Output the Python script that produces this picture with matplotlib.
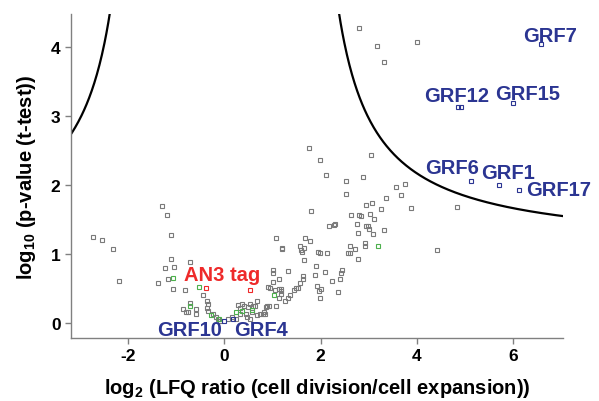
import matplotlib
matplotlib.use('Agg')
import matplotlib.pyplot as plt
import numpy as np

plt.rcParams['font.family'] = ['Liberation Sans', 'DejaVu Sans']
plt.rcParams['mathtext.default'] = 'regular'

# gray (unlabelled) proteins: log2 ratio, -log10 p
gray_x = [-2.73, -2.54, -2.32, -2.19, -1.29, -1.19, -1.12, -1.11, -1.24, -1.04, -0.71,
          -1.17, -1.38, -1.06, -0.82, -0.44, -0.36, -0.35, -0.36, -0.34, -0.72, -0.86,
          -0.80, -0.76, -0.60, -0.59, -0.23, -0.18, -0.13, -0.09, 0.07, 0.15, 0.24,
          0.32, 0.29, 0.41, 0.49, 0.60, 0.45, 0.57, 0.67, 0.81, 0.85, 0.46, 0.54,
          0.68, 0.63, 0.74, 0.83, 0.32, 0.53, 0.36,
          0.90, 0.94, 1.06, 1.13, 1.18, 1.17, 1.02, 1.02, 1.02, 1.33, 1.13, 1.08, 1.20,
          0.88, 0.92, 1.07, 0.86, 1.13, 1.17, 1.26, 1.33, 1.36, 1.45, 1.48, 1.52,
          1.57, 1.63, 1.63, 1.66, 1.19, 1.60, 1.95, 1.99, 2.14, 2.57, 2.78,
          1.80, 2.18, 2.30, 2.64, 2.80, 2.75, 2.77, 1.68, 1.78, 1.58, 1.66, 1.61,
          2.61, 2.72, 2.61, 1.90, 2.10, 2.44, 2.42, 2.40, 2.23, 2.36, 1.89,
          1.93, 2.01, 1.96, 1.99,
          2.80, 3.18, 4.01, 3.32, 3.05, 1.76, 1.99, 2.11, 2.52, 2.89, 2.53, 3.57,
          3.75, 3.68, 3.36, 2.95, 3.07, 3.25, 3.88, 4.83, 2.84, 3.02, 3.10,
          2.28, 2.95, 2.99, 3.00, 3.32, 3.09, 2.92, 2.92, 4.41]
gray_y = [1.25, 1.20, 1.07, 0.61, 1.69, 1.57, 1.28, 0.92, 0.80, 0.81, 0.88,
          0.63, 0.58, 0.49, 0.48, 0.40, 0.32, 0.28, 0.22, 0.17, 0.29, 0.20,
          0.15, 0.16, 0.20, 0.13, 0.13, 0.08, 0.06, 0.03, 0.05, 0.08, 0.06,
          0.13, 0.26, 0.24, 0.23, 0.24, 0.13, 0.15, 0.11, 0.13, 0.13, 0.08, 0.06,
          0.32, 0.25, 0.13, 0.16, 0.21, 0.28, 0.28,
          0.52, 0.50, 0.48, 0.49, 0.49, 0.46, 0.59, 0.73, 0.76, 0.75, 0.64, 1.23, 1.08,
          0.25, 0.24, 0.25, 0.23, 0.36, 0.42, 0.32, 0.36, 0.40, 0.48, 0.50, 0.50,
          0.58, 0.68, 0.63, 0.91, 1.07, 1.05, 1.03, 1.02, 1.02, 1.02, 0.92,
          1.62, 1.41, 1.43, 1.56, 1.56, 1.44, 1.30, 1.23, 1.19, 1.11, 1.08, 1.03,
          1.12, 1.07, 1.02, 0.83, 0.74, 0.77, 0.72, 0.64, 0.60, 0.45, 0.70,
          0.54, 0.49, 0.46, 0.36,
          4.28, 4.02, 4.08, 3.78, 2.43, 2.53, 2.36, 2.15, 2.06, 2.11, 1.87, 1.97,
          2.01, 1.86, 1.81, 1.71, 1.74, 1.65, 1.66, 1.68, 1.55, 1.58, 1.51,
          1.42, 1.41, 1.40, 1.36, 1.34, 1.29, 1.16, 1.11, 1.05]

green_x = [-1.07, -0.53, -0.71, -0.27, -0.11, 0.25, 0.37, 0.57, 1.03, 3.20]
green_y = [0.65, 0.52, 0.24, 0.12, 0.06, 0.16, 0.17, 0.18, 0.41, 1.12]

red_x = [-0.38, 0.53]
red_y = [0.50, 0.47]

grf_x = [6.58, 4.85, 4.92, 6.00, 5.12, 5.71, 6.12, -0.01, 0.18]
grf_y = [4.04, 3.13, 3.13, 3.19, 2.06, 2.00, 1.93, 0.02, 0.06]

# label text anchors (centre)
label_text = ['GRF7', 'GRF12', 'GRF15', 'GRF6', 'GRF1', 'GRF17', 'GRF10', 'GRF4']
label_x = [6.77, 4.82, 6.30, 4.74, 5.90, 6.94, -0.73, 0.76]
label_y = [4.17, 3.30, 3.33, 2.25, 2.18, 1.93, -0.09, -0.09]

xticks = [-2, 0, 2, 4, 6]
xtick_labels = ['-2', '0', '2', '4', '6']
yticks = [0, 1, 2, 3, 4]

# significance curve parameters
s0 = 1.61
c_curve = 2.65
y0_curve = 1.06

navy = '#2b3592'
red = '#ee2a2a'

fig = plt.figure(figsize=(5.99, 4.02), dpi=100)
ax = fig.add_axes([0.1185, 0.1567, 0.8215, 0.806])

xr = np.linspace(s0 + 0.3, 7.2, 400)
yr = y0_curve + c_curve / (xr - s0)
ax.plot(xr, yr, color='black', lw=1.6, zorder=1)
ax.plot(-xr, yr, color='black', lw=1.6, zorder=1)

mk = dict(marker='s', ls='none', ms=3.4, mew=0.8, mfc='none')
ax.plot(gray_x, gray_y, mec='#7a7a7a', zorder=2, **mk)
ax.plot(green_x, green_y, mec='#4cb04c', zorder=3, **mk)
ax.plot(red_x, red_y, mec=red, zorder=3, **mk)
ax.plot(grf_x, grf_y, mec=navy, zorder=3, **mk)

for t, x, y in zip(label_text, label_x, label_y):
    ax.text(x, y, t, color=navy, fontsize=14.5, fontweight='bold', ha='center', va='center')
ax.text(-0.04, 0.70, 'AN3 tag', color=red, fontsize=14.5, fontweight='bold', ha='center', va='center')

ax.set_xlim(-3.19, 7.04)
ax.set_ylim(-0.22, 4.48)
ax.set_xticks(xticks)
ax.set_xticklabels(xtick_labels)
ax.set_yticks(yticks)
for s in ['top', 'right']:
    ax.spines[s].set_visible(False)
for s in ['left', 'bottom']:
    ax.spines[s].set_color('#808080')
    ax.spines[s].set_linewidth(1.0)
ax.tick_params(colors='#808080', length=4.5, width=1, pad=3, labelcolor='black', labelsize=12.5)
for lab in ax.get_xticklabels() + ax.get_yticklabels():
    lab.set_fontweight('bold')

ax.set_xlabel('log$_2$ (LFQ ratio (cell division/cell expansion))', fontsize=14.5, fontweight='bold', labelpad=9)
ax.set_ylabel('log$_{10}$ (p-value (t-test))', fontsize=14.5, fontweight='bold', labelpad=9)

plt.savefig('out.png', dpi=100)
